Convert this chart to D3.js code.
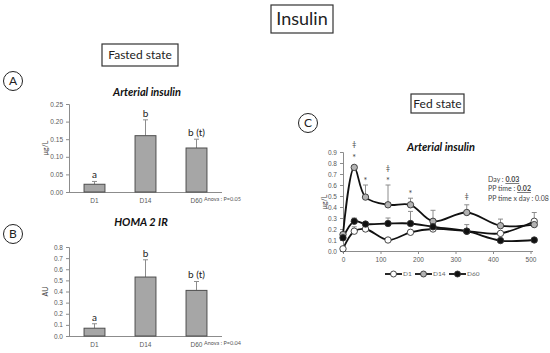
<!DOCTYPE html>
<html>
<head>
<meta charset="utf-8">
<script src="https://cdn.jsdelivr.net/npm/d3@7"></script>
<style>
  body { margin: 0; background: #fff; }
  svg { font-family: Lato, "Open Sans", sans-serif; }
  .tick text { fill: #595959; }
</style>
</head>
<body>
<svg id="chart" width="550" height="353"></svg>
<script>
// ---- data ----
var days = ["D1", "D14", "D60"];
var insulinMean = [0.022, 0.160, 0.125];
var insulinErr  = [0.008, 0.045, 0.025];
var insulinLetters = ["a", "b", "b (t)"];
var homaMean = [0.07, 0.53, 0.41];
var homaErr  = [0.04, 0.155, 0.08];
var homaLetters = ["a", "b", "b (t)"];

var fedTimes = [0, 30, 60, 120, 180, 240, 330, 420, 510];
var fedD1  = [0.02, 0.18, 0.20, 0.10, 0.17, 0.20, 0.18, 0.16, 0.27];
var fedD1Err  = [0, 0.04, 0, 0, 0, 0, 0.06, 0, 0];
var fedD14 = [0.15, 0.76, 0.49, 0.42, 0.42, 0.27, 0.35, 0.23, 0.24];
var fedD14Err = [0, 0, 0.11, 0.18, 0.06, 0.10, 0.07, 0.06, 0.11];
var fedD60 = [0.12, 0.27, 0.245, 0.25, 0.25, 0.22, 0.18, 0.095, 0.10];
var fedD60Err = [0, 0.03, 0, 0.05, 0.11, 0, 0, 0, 0];
// significance marks above the D14 curve: [time, symbol, value position]
var fedMarks = [[30, "*", 0.85], [30, "‡", 0.97], [60, "*", 0.64],
                [120, "*", 0.64], [120, "‡", 0.755], [180, "*", 0.52], [330, "‡", 0.50]];
var statLines = [["Day : ", "0.03"], ["PP time : ", "0.02"], ["PP time x day : ", "0.08", true]];

var svg = d3.select("#chart");
var axisGrey = "#8c8c8c";

// boxed headings
function boxedLabel(x, y, w, h, txt, size) {
  svg.append("rect").attr("x", x).attr("y", y).attr("width", w).attr("height", h)
     .attr("fill", "#fff").attr("stroke", "#333").attr("stroke-width", 1.2);
  svg.append("text").attr("x", x + w / 2).attr("y", y + h / 2).attr("dy", "0.35em")
     .attr("text-anchor", "middle").attr("font-size", size).attr("fill", "#222").text(txt);
}
boxedLabel(271, 5, 62, 28, "Insulin", 18);
boxedLabel(102, 44, 76, 22, "Fasted state", 12);
boxedLabel(411, 94, 53, 19, "Fed state", 12);

// circled panel letters
function panelLetter(cx, cy, txt) {
  svg.append("circle").attr("cx", cx).attr("cy", cy).attr("r", 9.5)
     .attr("fill", "none").attr("stroke", "#222").attr("stroke-width", 1);
  svg.append("text").attr("x", cx).attr("y", cy).attr("dy", "0.36em")
     .attr("text-anchor", "middle").attr("font-size", 12).attr("fill", "#222").text(txt);
}
panelLetter(13, 81, "A");
panelLetter(13, 234, "B");
panelLetter(308, 123, "C");

function styleAxis(g) {
  g.selectAll("path, line").attr("stroke", axisGrey);
  g.selectAll("text").attr("font-size", 6.5).attr("fill", "#595959");
}

// ---- bar charts ----
function barChart(opts) {
  var x = d3.scaleBand().domain(days).range([69, 222]).paddingInner(0.59).paddingOuter(0.295);
  var y = d3.scaleLinear().domain([0, opts.max]).range([opts.bottom, opts.top]);

  svg.append("text").attr("x", opts.titleX).attr("y", opts.titleY)
     .attr("text-anchor", "middle").attr("font-size", 11).attr("font-weight", "bold")
     .attr("font-style", "italic").attr("fill", "#111").text(opts.title);

  var ya = svg.append("g").attr("transform", "translate(69,0)")
    .call(d3.axisLeft(y).tickValues(d3.range(0, opts.max + 1e-9, opts.step))
      .tickFormat(d3.format(opts.fmt)).tickSize(3).tickPadding(3));
  styleAxis(ya);

  var xa = svg.append("g").attr("transform", "translate(0," + opts.bottom + ")")
    .call(d3.axisBottom(x).tickSize(0).tickPadding(6).tickSizeOuter(0));
  styleAxis(xa);
  xa.select(".domain").attr("d", "M69,0.5H222");

  svg.append("text")
     .attr("transform", "translate(48," + (opts.top + opts.bottom) / 2 + ") rotate(-90)")
     .attr("text-anchor", "middle").attr("font-size", 7).attr("fill", "#444").text(opts.yLabel);

  // error bars (upward)
  svg.selectAll(null).data(days).enter().append("line")
     .attr("x1", function(d) { return x(d) + x.bandwidth() / 2; })
     .attr("x2", function(d) { return x(d) + x.bandwidth() / 2; })
     .attr("y1", function(d, i) { return y(opts.mean[i]); })
     .attr("y2", function(d, i) { return y(opts.mean[i] + opts.err[i]); })
     .attr("stroke", "#8c8c8c").attr("stroke-width", 1);
  svg.selectAll(null).data(days).enter().append("line")
     .attr("x1", function(d) { return x(d) + x.bandwidth() / 2 - 2.5; })
     .attr("x2", function(d) { return x(d) + x.bandwidth() / 2 + 2.5; })
     .attr("y1", function(d, i) { return y(opts.mean[i] + opts.err[i]); })
     .attr("y2", function(d, i) { return y(opts.mean[i] + opts.err[i]); })
     .attr("stroke", "#8c8c8c").attr("stroke-width", 1);

  svg.selectAll(null).data(days).enter().append("rect")
     .attr("x", function(d) { return x(d); })
     .attr("width", x.bandwidth())
     .attr("y", function(d, i) { return y(opts.mean[i]); })
     .attr("height", function(d, i) { return opts.bottom - y(opts.mean[i]); })
     .attr("fill", "#a6a6a6").attr("stroke", "#4d4d4d").attr("stroke-width", 1);

  svg.selectAll(null).data(days).enter().append("text")
     .attr("x", function(d) { return x(d) + x.bandwidth() / 2; })
     .attr("y", function(d, i) { return y(opts.mean[i] + opts.err[i]) - 3; })
     .attr("text-anchor", "middle").attr("font-size", 10).attr("fill", "#222")
     .text(function(d, i) { return opts.letters[i]; });

  svg.append("text").attr("x", 204).attr("y", opts.bottom + 8.5)
     .attr("font-size", 5.5).attr("fill", "#555").text(opts.anova);
}

barChart({ title: "Arterial insulin", titleX: 147, titleY: 95.5, top: 104, bottom: 192,
  max: 0.25, step: 0.05, fmt: ".2f", yLabel: "μg/L",
  mean: insulinMean, err: insulinErr, letters: insulinLetters, anova: "Anova : P=0.05" });
barChart({ title: "HOMA 2 IR", titleX: 141, titleY: 226, top: 247, bottom: 336,
  max: 0.8, step: 0.1, fmt: ".1f", yLabel: "AU",
  mean: homaMean, err: homaErr, letters: homaLetters, anova: "Anova : P=0.04" });

// ---- fed state line chart ----
var xC = d3.scaleLinear().domain([0, 500]).range([343, 530.5]);
var yC = d3.scaleLinear().domain([0, 0.9]).range([251, 152]);

svg.append("text").attr("x", 441).attr("y", 151)
   .attr("text-anchor", "middle").attr("font-size", 11).attr("font-weight", "bold")
   .attr("font-style", "italic").attr("fill", "#111").text("Arterial insulin");

var yaC = svg.append("g").attr("transform", "translate(343,0)")
  .call(d3.axisLeft(yC).tickValues(d3.range(0, 0.9001, 0.1))
    .tickFormat(d3.format(".1f")).tickSize(3).tickPadding(3));
styleAxis(yaC);
var xaC = svg.append("g").attr("transform", "translate(0,251)")
  .call(d3.axisBottom(xC).tickValues(d3.range(0, 501, 100)).tickSize(3).tickPadding(3).tickSizeOuter(0));
styleAxis(xaC);
xaC.select(".domain").attr("d", "M343,0.5H533");

svg.append("text").attr("transform", "translate(327,202) rotate(-90)")
   .attr("text-anchor", "middle").attr("font-size", 7).attr("fill", "#444").text("μg/L");

var series = [
  { name: "D1", vals: fedD1, err: fedD1Err, fill: "#fff" },
  { name: "D14", vals: fedD14, err: fedD14Err, fill: "#b3b3b3" },
  { name: "D60", vals: fedD60, err: fedD60Err, fill: "#111" }
];

var line = d3.line()
  .x(function(d) { return xC(d[0]); })
  .y(function(d) { return yC(d[1]); })
  .curve(d3.curveCatmullRom.alpha(0.5));

series.forEach(function(s) {
  var pts = fedTimes.map(function(t, i) { return [t, s.vals[i], s.err[i]]; });
  var eb = pts.filter(function(p) { return p[2] > 0; });
  svg.selectAll(null).data(eb).enter().append("path")
     .attr("d", function(p) {
       var cx = xC(p[0]), top = yC(p[1] + p[2]);
       return "M" + cx + "," + yC(p[1]) + "V" + top + "M" + (cx - 2.5) + "," + top + "H" + (cx + 2.5);
     })
     .attr("stroke", "#8c8c8c").attr("stroke-width", 1).attr("fill", "none");
});
series.forEach(function(s) {
  var pts = fedTimes.map(function(t, i) { return [t, s.vals[i]]; });
  svg.append("path").datum(pts).attr("d", line)
     .attr("fill", "none").attr("stroke", "#111").attr("stroke-width", 1.8);
});
series.forEach(function(s) {
  var pts = fedTimes.map(function(t, i) { return [t, s.vals[i]]; });
  svg.selectAll(null).data(pts).enter().append("circle")
     .attr("cx", function(p) { return xC(p[0]); })
     .attr("cy", function(p) { return yC(p[1]); })
     .attr("r", 3.2).attr("fill", s.fill).attr("stroke", "#333").attr("stroke-width", 0.9);
});

svg.selectAll(null).data(fedMarks).enter().append("text")
   .attr("x", function(m) { return xC(m[0]); })
   .attr("y", function(m) { return yC(m[2]); })
   .attr("dy", "0.35em").attr("text-anchor", "middle")
   .attr("font-size", function(m) { return m[1] === "*" ? 9 : 7.5; })
   .attr("fill", "#444").text(function(m) { return m[1]; });

// stats text
var stats = svg.append("g").attr("font-size", 7).attr("fill", "#444");
statLines.forEach(function(l, i) {
  var t = stats.append("text").attr("x", 488).attr("y", 182 + i * 9.3);
  t.append("tspan").text(l[0]);
  var v = t.append("tspan").text(l[1]);
  if (!l[2]) v.attr("font-weight", "bold").attr("text-decoration", "underline");
});

// legend
var legX = [385, 415, 449];
var leg = svg.selectAll(null).data(series).enter().append("g")
  .attr("transform", function(s, i) { return "translate(" + legX[i] + ",274)"; });
leg.append("line").attr("x1", 0).attr("x2", 17).attr("stroke", "#111").attr("stroke-width", 1.8);
leg.append("circle").attr("cx", 8.5).attr("r", 3).attr("fill", function(s) { return s.fill; })
   .attr("stroke", "#333").attr("stroke-width", 0.9);
leg.append("text").attr("x", 18).attr("dy", "0.35em").attr("font-size", 6.5)
   .attr("fill", "#666").text(function(s) { return s.name; });
</script>
</body>
</html>
